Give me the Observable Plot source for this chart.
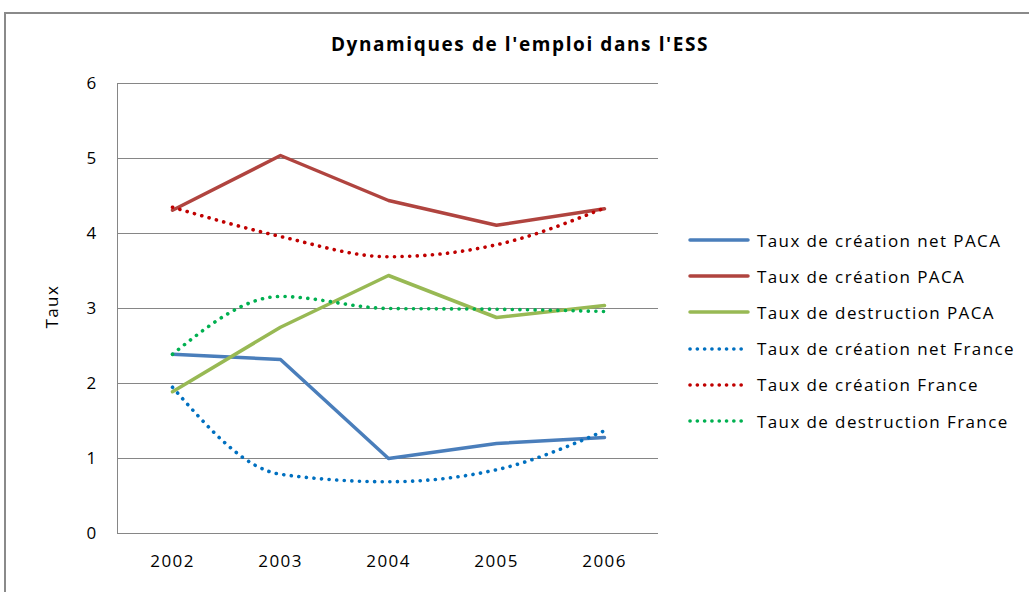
<!DOCTYPE html>
<html><head><meta charset="utf-8">
<script src="https://cdn.jsdelivr.net/npm/d3@7"></script>
<script src="https://cdn.jsdelivr.net/npm/@observablehq/plot@0.6"></script>
<style>
body{margin:0;background:#fff;font-family:"Open Sans",sans-serif;}
#wrap{position:relative;width:1029px;height:592px;overflow:hidden;background:#fff;}
#frame{position:absolute;left:4px;top:12px;width:1040px;height:600px;border:2px solid #8a8a8a;box-sizing:border-box;}
#title{position:absolute;left:220px;width:600px;top:31px;text-align:center;font-weight:bold;font-size:19px;letter-spacing:1.6px;color:#000;}
#plot{position:absolute;left:0;top:0;}
#plot svg text{letter-spacing:1.4px;}
#legend{position:absolute;left:688px;top:222px;font-size:17px;letter-spacing:1.4px;color:#000;}
.row{height:36.2px;display:flex;align-items:center;}
.row svg{margin-right:7px;}
</style></head>
<body><div id="wrap"><div id="frame"></div><div id="title">Dynamiques de l'emploi dans l'ESS</div><div id="plot"></div><div id="legend"></div></div>
<script>
const years = ["2002","2003","2004","2005","2006"];
const seriesNames = ["Taux de création net PACA","Taux de création PACA","Taux de destruction PACA","Taux de création net France","Taux de création France","Taux de destruction France"];
const netPACA = [2.39, 2.32, 1.00, 1.20, 1.28];
const creationPACA = [4.31, 5.04, 4.44, 4.11, 4.33];
const destructionPACA = [1.89, 2.75, 3.44, 2.88, 3.04];
const netFrance = [1.95, 0.79, 0.69, 0.85, 1.37];
const creationFrance = [4.35, 3.96, 3.69, 3.85, 4.34];
const destructionFrance = [2.39, 3.16, 3.00, 2.99, 2.96];
const yTicks = [0,1,2,3,4,5,6];
const colors = ["#4A7EBB","#B0443F","#98B954","#0070C0","#C00000","#00B050"];
const dotted = [false,false,false,true,true,true];

const allValues = [netPACA, creationPACA, destructionPACA, netFrance, creationFrance, destructionFrance];
const data = allValues.flatMap((vals,i)=>vals.map((v,j)=>({series:seriesNames[i], year:years[j], value:v, idx:i})));

const marks = [
  Plot.gridY(yTicks,{stroke:"#868686",strokeOpacity:1,strokeWidth:1}),
  Plot.frame({anchor:"left",stroke:"#868686"}),
  Plot.axisY(yTicks,{tickSize:0,tickPadding:20,fontSize:17,fill:"#000",label:null,tickFormat:d3.format("d")}),
  Plot.axisX(years,{tickSize:0,tickPadding:21,fontSize:17,fill:"#000",label:null}),
  Plot.ruleY([0],{stroke:"#868686"}),
  Plot.text(["Taux"],{frameAnchor:"left",rotate:-90,dx:-65,dy:20,fontSize:17,fill:"#000"})
];
seriesNames.forEach((name,i)=>{
  const d = data.filter(r=>r.idx===i);
  if(dotted[i]){
    marks.push(Plot.line(d,{x:"year",y:"value",stroke:colors[i],strokeWidth:3.6,strokeDasharray:"0.1 7.5",strokeLinecap:"round",curve:"monotone-x"}));
  } else {
    marks.push(Plot.line(d,{x:"year",y:"value",stroke:colors[i],strokeWidth:3.5,curve:"linear"}));
  }
});

const chart = Plot.plot({
  width:680, height:592,
  marginLeft:117, marginRight:22, marginTop:83, marginBottom:59,
  style:{fontFamily:"'Open Sans',sans-serif",fontSize:"17px",background:"transparent",overflow:"visible"},
  x:{type:"point",domain:years,padding:0.5},
  y:{domain:[0,6]},
  marks
});
document.getElementById("plot").appendChild(chart);

const legend = document.getElementById("legend");
seriesNames.forEach((name,i)=>{
  const row = document.createElement("div"); row.className="row";
  const dash = dotted[i] ? 'stroke-dasharray="0.1 7.2" stroke-width="3.6"' : 'stroke-width="3.5"';
  row.innerHTML = `<svg width="62" height="10"><line x1="2" x2="60" y1="5" y2="5" stroke="${colors[i]}" stroke-linecap="round" ${dash}/></svg><span>${name}</span>`;
  legend.appendChild(row);
});
</script></body></html>
